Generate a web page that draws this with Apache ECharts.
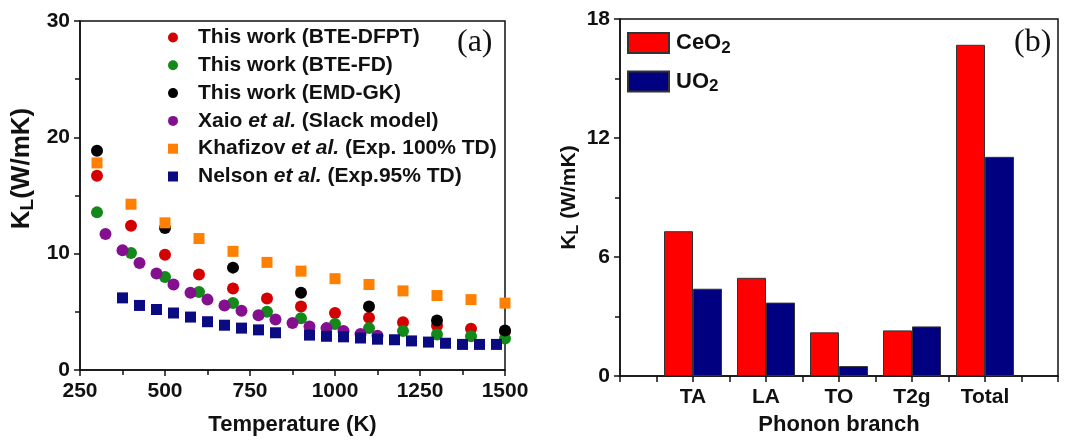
<!DOCTYPE html>
<html><head><meta charset="utf-8">
<script src="https://cdn.jsdelivr.net/npm/echarts@6/dist/echarts.min.js"></script>
<style>html,body{margin:0;padding:0;background:#fff}#c{width:1073px;height:441px}</style>
</head><body><div id="c"></div>
<script>
// ---- Panel (a) data ----
const tempMain = [300,400,500,600,700,800,900,1000,1100,1200,1300,1400,1500];
const bteDfpt = [16.7,12.4,9.9,8.2,7.0,6.15,5.45,4.9,4.5,4.1,3.8,3.55,3.3];
const bteFd   = [13.55,10.05,8.0,6.7,5.75,5.0,4.45,3.95,3.6,3.35,3.05,2.9,2.7];
const tempGk  = [300,500,700,900,1100,1300,1500];
const emdGk   = [18.85,12.2,8.8,6.65,5.45,4.25,3.4];
const tempSlack = [325,375,425,475,525,575,625,675,725,775,825,875,925,975,1025,1075,1125];
const slack   = [11.7,10.3,9.2,8.3,7.35,6.65,6.05,5.55,5.1,4.7,4.35,4.05,3.75,3.6,3.35,3.1,2.95];
const khafizov = [17.8,14.25,12.65,11.3,10.2,9.25,8.5,7.85,7.35,6.8,6.4,6.05,5.75];
const tempNelson = [375,425,475,525,575,625,675,725,775,825,925,975,1025,1075,1125,1175,1225,1275,1325,1375,1425,1475];
const nelson = [6.2,5.55,5.2,4.9,4.55,4.15,3.85,3.6,3.45,3.2,3.0,2.9,2.85,2.75,2.65,2.6,2.5,2.4,2.3,2.2,2.2,2.2];
// ---- Panel (b) data ----
const branches = ['TA','LA','TO','T2g','Total'];
const ceo2 = [7.3,4.95,2.2,2.3,16.7];
const uo2  = [4.4,3.7,0.5,2.5,11.05];

const zip = (xs, ys) => xs.map((x,i)=>[x, ys[i]]);
// category slots for panel (b): branches sit on every second tick, with empty slots around
const slots = [], slotLabel = {}, ceoSlots = [], uoSlots = [];
for (let i = 0; i < 13; i++) {
  const k = 's' + i; slots.push(k);
  const bi = (i % 2 === 0) ? i/2 - 1 : -1;
  if (bi >= 0 && bi < branches.length) { slotLabel[k] = branches[bi]; ceoSlots.push(ceo2[bi]); uoSlots.push(uo2[bi]); }
  else { slotLabel[k] = ''; ceoSlots.push('-'); uoSlots.push('-'); }
}

const FF = '"Liberation Sans", Arial, sans-serif';
const C = '#111';
const axisLine = {show:true, onZero:false, lineStyle:{color:C, width:1.5}};
const axisTick = {show:true, inside:false, length:6, lineStyle:{color:C, width:1.5}};
const minorTick = {show:true, splitNumber:2, length:5, lineStyle:{color:C, width:1.5}};
const lab = {color:C, fontFamily:FF, fontWeight:'bold', fontSize:21};
const nameRich = (big, small, pad) => ({color:C, fontFamily:FF, fontWeight:'bold', fontSize:big, padding:pad,
  rich:{b:{fontFamily:FF, fontWeight:'bold', fontSize:big, color:C},
        s:{fontFamily:FF, fontWeight:'bold', fontSize:small, color:C, padding:[Math.round(big*0.45),0,0,0]}}});

const legendNames = {
  dfpt:'{b|This work (BTE-DFPT)}',
  fd:'{b|This work (BTE-FD)}',
  gk:'{b|This work (EMD-GK)}',
  slack:'{b|Xaio }{i|et al.}{b| (Slack model)}',
  khaf:'{b|Khafizov }{i|et al.}{b| (Exp. 100% TD)}',
  nel:'{b|Nelson }{i|et al.}{b| (Exp.95% TD)}'
};
const lrich = {b:{fontFamily:FF, fontWeight:'bold', fontSize:21, color:C},
               i:{fontFamily:FF, fontWeight:'bold', fontStyle:'italic', fontSize:21, color:C}};

const sc = (name, data, color, symbol, size) => ({
  type:'scatter', name, data, xAxisIndex:0, yAxisIndex:0, symbol, symbolSize:size,
  itemStyle:{color, opacity:1}, z: 3
});

const option = {
  animation:false,
  grid:[
    {left:80, top:21, width:425, height:352, show:true, borderColor:C, borderWidth:1.5, backgroundColor:'transparent'},
    {left:620, top:19, width:438, height:363, show:true, borderColor:C, borderWidth:1.5, backgroundColor:'transparent'}
  ],
  xAxis:[
    {type:'value', gridIndex:0, min:250, max:1500, interval:250, axisLine, axisTick, minorTick,
     splitLine:{show:false}, axisLabel:Object.assign({margin:11, formatter:(v)=>String(v)}, lab),
     name:'Temperature (K)', nameLocation:'middle', nameGap:44, nameTextStyle:{color:C, fontFamily:FF, fontWeight:'bold', fontSize:22}},
    {type:'category', gridIndex:1, data:slots, boundaryGap:false, axisLine,
     axisTick:Object.assign({interval:0}, axisTick),
     axisLabel:Object.assign({margin:11, interval:0, formatter:(v)=>slotLabel[v]}, lab),
     name:'Phonon branch', nameLocation:'middle', nameGap:38, nameTextStyle:{color:C, fontFamily:FF, fontWeight:'bold', fontSize:22}}
  ],
  yAxis:[
    {type:'value', gridIndex:0, min:0, max:30, interval:10, axisLine, axisTick, minorTick,
     splitLine:{show:false}, axisLabel:Object.assign({margin:10}, lab),
     name:'{b|K}{s|L}{b|(W/mK)}', nameLocation:'middle', nameGap:43, nameRotate:90, nameTextStyle:nameRich(26,19,[0,0,0,54])},
    {type:'value', gridIndex:1, min:0, max:18, interval:6, axisLine, axisTick, minorTick,
     splitLine:{show:false}, axisLabel:Object.assign({margin:10}, lab),
     name:'{b|K}{s|L}{b| (W/mK)}', nameLocation:'middle', nameGap:38, nameRotate:90, nameTextStyle:nameRich(21,16,0)}
  ],
  legend:[
    {orient:'vertical', left:168, top:26, padding:0, itemWidth:10, itemHeight:10, itemGap:4.8,
     data:[{name:'dfpt', icon:'circle'},{name:'fd', icon:'circle'},{name:'gk', icon:'circle'},{name:'slack', icon:'circle'},{name:'khaf', icon:'rect'},{name:'nel', icon:'rect'}],
     formatter:(n)=>legendNames[n], textStyle:{padding:[0,0,0,15], lineHeight:23, rich:lrich}},
    {orient:'vertical', left:627, top:32, padding:0, itemWidth:41, itemHeight:20, itemGap:14,
     data:[{name:'ceo2', icon:'rect'},{name:'uo2', icon:'rect'}],
     formatter:(n)=> n==='ceo2' ? '{b|CeO}{s|2}' : '{b|UO}{s|2}',
     textStyle:{padding:[0,0,0,2], rich:{b:{fontFamily:FF, fontWeight:'bold', fontSize:22, color:C, lineHeight:24},
                                         s:{fontFamily:FF, fontWeight:'bold', fontSize:17, color:C, padding:[10,0,0,0]}}}}
  ],
  graphic:[
    {type:'text', left:457, top:27, style:{text:'(a)', font:'32px "Liberation Serif", "Times New Roman", serif', fill:C}},
    {type:'text', left:1014, top:27, style:{text:'(b)', font:'32px "Liberation Serif", "Times New Roman", serif', fill:C}}
  ],
  series:[
    sc('dfpt', zip(tempMain, bteDfpt), '#d40000', 'circle', 12),
    sc('fd', zip(tempMain, bteFd), '#13891a', 'circle', 12),
    sc('gk', zip(tempGk, emdGk), '#000000', 'circle', 12),
    sc('slack', zip(tempSlack, slack), '#85108f', 'circle', 12),
    sc('khaf', zip(tempMain, khafizov), '#ff8000', 'rect', 11),
    sc('nel', zip(tempNelson, nelson), '#0a0a82', 'rect', 11),
    {type:'bar', name:'ceo2', xAxisIndex:1, yAxisIndex:1, data:ceoSlots, barWidth:29, barGap:'0%',
     itemStyle:{color:'#ff0000', borderColor:'#333', borderWidth:1}},
    {type:'bar', name:'uo2', xAxisIndex:1, yAxisIndex:1, data:uoSlots, barWidth:29, barGap:'0%',
     itemStyle:{color:'#000080', borderColor:'#333', borderWidth:1}}
  ]
};
const chart = echarts.init(document.getElementById('c'), null, {renderer:'canvas'});
chart.setOption(option);
</script>
</body></html>
